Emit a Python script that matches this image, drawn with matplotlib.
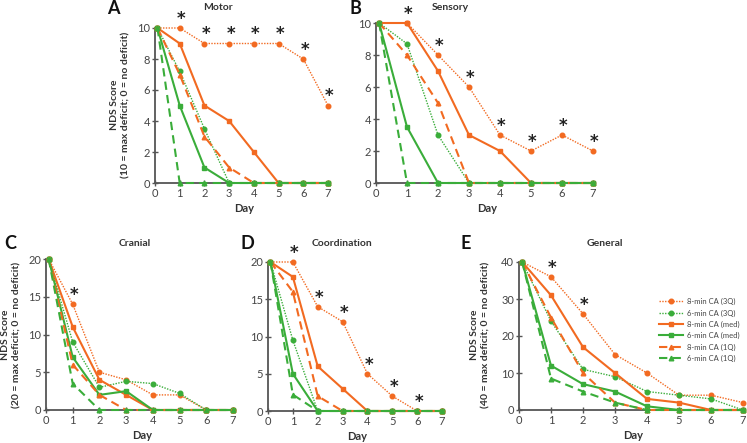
import matplotlib
matplotlib.use("Agg")
import matplotlib.pyplot as plt

plt.rcParams['font.family'] = ['Lato', 'DejaVu Sans']

days = [0.1, 1, 2, 3, 4, 5, 6, 7]
tick_days = [0, 1, 2, 3, 4, 5, 6, 7]
series_labels = ["8-min CA (3Q)", "6-min CA (3Q)", "8-min CA (med)",
                 "6-min CA (med)", "8-min CA (1Q)", "6-min CA (1Q)"]

# Motor
motor_8_3q = [10, 10, 9, 9, 9, 9, 8, 5]
motor_6_3q = [10, 7.2, 3.5, 0, 0, 0, 0, 0]
motor_8_med = [10, 9, 5, 4, 2, 0, 0, 0]
motor_6_med = [10, 5, 1, 0, 0, 0, 0, 0]
motor_8_1q = [10, 7, 3, 1, 0, 0, 0, 0]
motor_6_1q = [10, 0, 0, 0, 0, 0, 0, 0]
motor_sig = [1, 2, 3, 4, 5, 6, 7]

# Sensory
sens_8_3q = [10, 10, 8, 6, 3, 2, 3, 2]
sens_6_3q = [10, 8.7, 3, 0, 0, 0, 0, 0]
sens_8_med = [10, 10, 7, 3, 2, 0, 0, 0]
sens_6_med = [10, 3.5, 0, 0, 0, 0, 0, 0]
sens_8_1q = [10, 8, 5, 0, 0, 0, 0, 0]
sens_6_1q = [10, 0, 0, 0, 0, 0, 0, 0]
sens_sig = [1, 2, 3, 4, 5, 6, 7]

# Cranial
cran_8_3q = [20, 14, 5, 4, 2, 2, 0, 0]
cran_6_3q = [20, 9, 3, 3.8, 3.5, 2.2, 0, 0]
cran_8_med = [20, 11, 4, 2, 0, 0, 0, 0]
cran_6_med = [20, 7, 2, 2.5, 0, 0, 0, 0]
cran_8_1q = [20, 6, 2, 0, 0, 0, 0, 0]
cran_6_1q = [20, 3.5, 0, 0, 0, 0, 0, 0]
cran_sig = [1]

# Coordination
coord_8_3q = [20, 20, 14, 12, 5, 2, 0, 0]
coord_6_3q = [20, 9.5, 0, 0, 0, 0, 0, 0]
coord_8_med = [20, 18, 6, 3, 0, 0, 0, 0]
coord_6_med = [20, 5, 0, 0, 0, 0, 0, 0]
coord_8_1q = [20, 16, 2, 0, 0, 0, 0, 0]
coord_6_1q = [20, 2.2, 0, 0, 0, 0, 0, 0]
coord_sig = [1, 2, 3, 4, 5, 6]

# General
gen_8_3q = [40, 36, 26, 15, 10, 4, 4, 2]
gen_6_3q = [40, 24, 11, 9, 5, 4, 3, 0]
gen_8_med = [40, 31, 17, 10, 3, 2, 0, 0]
gen_6_med = [40, 12, 7, 5, 1, 0, 0, 0]
gen_8_1q = [40, 25, 10, 2, 0, 0, 0, 0]
gen_6_1q = [40, 8.5, 5, 2, 0, 0, 0, 0]
gen_sig = [1, 2]

ORANGE = '#f26a21'
GREEN = '#3aad3a'
styles = [
    dict(color=ORANGE, ls=(0, (1, 1)), lw=1.0, marker='o', ms=3.3),
    dict(color=GREEN, ls=(0, (1, 1)), lw=1.0, marker='o', ms=3.3),
    dict(color=ORANGE, ls='-', lw=1.5, marker='s', ms=3.3),
    dict(color=GREEN, ls='-', lw=1.5, marker='s', ms=3.3),
    dict(color=ORANGE, ls=(0, (4, 2.5)), lw=1.5, marker='^', ms=3.3),
    dict(color=GREEN, ls=(0, (4, 2.5)), lw=1.5, marker='^', ms=3.3),
]

W, H = 747, 443
fig = plt.figure(figsize=(W / 100, H / 100), dpi=100)

def px_axes(x0, x7, ytop, ybot, xmax):
    per = (x7 - x0) / 7.0
    width = per * xmax
    return fig.add_axes([x0 / W, 1 - ybot / H, width / W, (ybot - ytop) / H])

panels = [
    dict(pos=(155, 328, 28, 183), xmax=7.2, ymax=10, yt=[0, 2, 4, 6, 8, 10],
         data=[motor_8_3q, motor_6_3q, motor_8_med, motor_6_med, motor_8_1q, motor_6_1q],
         sig=motor_sig, title="Motor", tpos=(218, 8), letter="A", lpos=(113, 9),
         ylabel="NDS Score\n(10 = max deficit; 0 = no deficit)", ylpos=(120, 105)),
    dict(pos=(376, 593, 23, 183), xmax=7.2, ymax=10, yt=[0, 2, 4, 6, 8, 10],
         data=[sens_8_3q, sens_6_3q, sens_8_med, sens_6_med, sens_8_1q, sens_6_1q],
         sig=sens_sig, title="Sensory", tpos=(450, 8), letter="B", lpos=(355, 9),
         ylabel=None, ylpos=None),
    dict(pos=(46, 233, 259, 410), xmax=7.2, ymax=20, yt=[0, 5, 10, 15, 20],
         data=[cran_8_3q, cran_6_3q, cran_8_med, cran_6_med, cran_8_1q, cran_6_1q],
         sig=cran_sig, title="Cranial", tpos=(135, 243), letter="C", lpos=(10, 243),
         ylabel="NDS Score\n(20 = max deficit; 0 = no deficit)", ylpos=(11, 335)),
    dict(pos=(268, 442, 262, 411), xmax=7.2, ymax=20, yt=[0, 5, 10, 15, 20],
         data=[coord_8_3q, coord_6_3q, coord_8_med, coord_6_med, coord_8_1q, coord_6_1q],
         sig=coord_sig, title="Coordination", tpos=(342, 243), letter="D", lpos=(247, 243),
         ylabel=None, ylpos=None),
    dict(pos=(519, 743, 262, 410), xmax=7.12, ymax=40, yt=[0, 10, 20, 30, 40],
         data=[gen_8_3q, gen_6_3q, gen_8_med, gen_6_med, gen_8_1q, gen_6_1q],
         sig=gen_sig, title="General", tpos=(605, 243), letter="E", lpos=(466, 243),
         ylabel="NDS Score\n(40 = max deficit; 0 = no deficit)", ylpos=(480, 335)),
]

handles = []
for p in panels:
    x0, x7, yt_, yb_ = p['pos']
    ax = px_axes(x0, x7, yt_, yb_, p['xmax'])
    for i, (vals, st) in enumerate(zip(p['data'], styles)):
        ln, = ax.plot(days, vals, color=st['color'], ls=st['ls'], lw=st['lw'],
                      marker=st['marker'], ms=st['ms'], mec=st['color'],
                      mfc=st['color'], clip_on=False, zorder=3)
        if len(handles) < 6:
            handles.append(ln)
    # significance asterisks above the 8-min 3Q series
    top = p['data'][0]
    for d in p['sig']:
        idx = tick_days.index(d)
        ax.annotate('*', xy=(days[idx], top[idx]), xytext=(1, 0),
                    textcoords='offset points', ha='center', va='bottom',
                    fontsize=12, fontweight='bold', color='#222222', zorder=5,
                    family='DejaVu Sans')
    ax.set_xlim(0, p['xmax'])
    ax.set_ylim(0, p['ymax'])
    ax.set_xticks(tick_days)
    ax.set_yticks(p['yt'])
    for s in ['top', 'right']:
        ax.spines[s].set_visible(False)
    for s in ['left', 'bottom']:
        ax.spines[s].set_color('#555555')
        ax.spines[s].set_linewidth(1.3)
    ax.spines['bottom'].set_bounds(0, 7)
    ax.tick_params(axis='both', direction='inout', length=4, width=1,
                   color='#555555', labelsize=8, labelcolor='#444444', pad=1.5)
    ax.set_xlabel('Day', fontsize=8, fontweight='bold', color='#333333', labelpad=3)
    ax.patch.set_alpha(0)
    fig.text(p['tpos'][0] / W, 1 - p['tpos'][1] / H, p['title'], ha='center',
             va='center', fontsize=7.5, fontweight='bold', color='#333333')
    fig.text(p['lpos'][0] / W, 1 - p['lpos'][1] / H, p['letter'], ha='center',
             va='center', fontsize=13, fontweight='bold', color='#111111')
    if p['ylabel']:
        fig.text(p['ylpos'][0] / W, 1 - p['ylpos'][1] / H, p['ylabel'], ha='center',
                 va='center', rotation=90, fontsize=7.5, fontweight='bold',
                 color='#333333', linespacing=1.3)

fig.legend(handles, series_labels, loc='center left',
           bbox_to_anchor=(652 / W, 1 - 330 / H), frameon=False, fontsize=5.5,
           handlelength=3.2, handletextpad=0.5, labelspacing=0.55,
           labelcolor='#444444')

fig.savefig('out.png', dpi=100)
